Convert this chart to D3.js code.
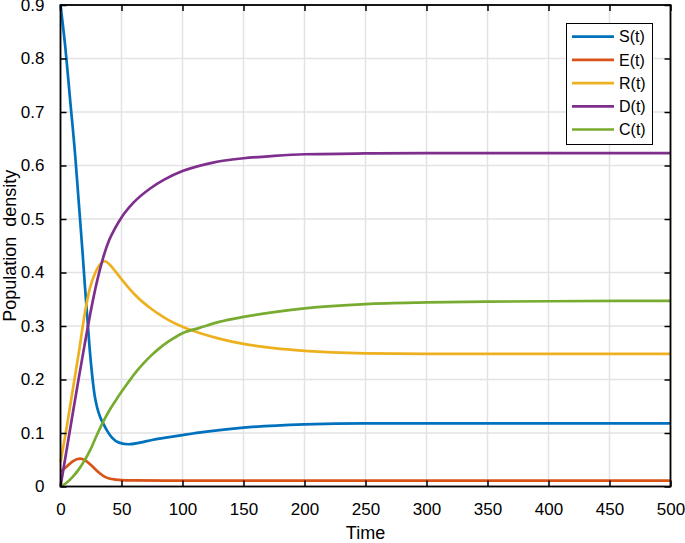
<!DOCTYPE html>
<html>
<head>
<meta charset="utf-8">
<script src="https://cdn.jsdelivr.net/npm/d3@7"></script>
<style>
  body { margin: 0; background: #fff; }
  text { font-family: "Liberation Sans", Arial, Helvetica, sans-serif; fill: #000; }
</style>
</head>
<body>
<svg id="chart" width="685" height="543"></svg>
<script>
// values, t -> density
var sTime = [0, 4, 8, 12, 15, 18, 20, 22, 24, 26, 28, 30, 32.5, 35.2, 38.5, 42, 48, 55.7, 65, 75, 100, 118, 150, 200, 250, 300, 500];
var sVals = [0.9, 0.82, 0.72, 0.62, 0.53, 0.44, 0.375, 0.315, 0.255, 0.207, 0.17, 0.148, 0.13, 0.117, 0.103, 0.092, 0.082, 0.079, 0.082, 0.087, 0.096, 0.102, 0.11, 0.116, 0.118, 0.118, 0.118];

var eTime = [0, 5, 10, 16, 20, 25, 30, 35, 40, 45, 50, 60, 100, 500];
var eVals = [0.028, 0.037, 0.047, 0.052, 0.049, 0.04, 0.029, 0.02, 0.015, 0.013, 0.012, 0.0115, 0.011, 0.011];

var rTime = [0, 5, 10, 15, 20, 24, 28.4, 32, 36.6, 41, 45, 50, 55, 61.2, 68, 74.9, 81, 88.6, 100, 116, 130, 150, 175, 200, 250, 300, 500];
var rVals = [0.045, 0.11, 0.18, 0.25, 0.325, 0.37, 0.399, 0.414, 0.421, 0.413, 0.402, 0.3875, 0.3735, 0.358, 0.3437, 0.3313, 0.3215, 0.3109, 0.2984, 0.2856, 0.2765, 0.2665, 0.2585, 0.2535, 0.249, 0.248, 0.248];

var dTime = [0, 5, 10, 15, 20, 25, 30, 35, 40, 45, 50, 60, 73.5, 85, 100, 125, 150, 175, 200, 250, 300, 500];
var dVals = [0, 0.068, 0.136, 0.203, 0.268, 0.33, 0.384, 0.428, 0.461, 0.484, 0.503, 0.531, 0.557, 0.5735, 0.5895, 0.6055, 0.6135, 0.618, 0.621, 0.6225, 0.623, 0.623];

var cTime = [0, 5, 10, 15, 19, 24.3, 29, 33.9, 40, 45, 50, 55, 61.2, 68, 74.9, 81, 88.6, 100, 114, 130, 150, 175, 200, 250, 300, 350, 400, 500];
var cVals = [0, 0.007, 0.018, 0.032, 0.046, 0.068, 0.092, 0.116, 0.142, 0.16, 0.177, 0.193, 0.212, 0.23, 0.246, 0.2582, 0.2711, 0.2865, 0.2965, 0.3077, 0.317, 0.326, 0.333, 0.341, 0.344, 0.3455, 0.3463, 0.347];

var seriesNames = ['S(t)', 'E(t)', 'R(t)', 'D(t)', 'C(t)'];
var seriesColors = ['#0072BD', '#D95319', '#EDB120', '#7E2F8E', '#77AC30'];
var xTicks = [0, 50, 100, 150, 200, 250, 300, 350, 400, 450, 500];
var yTicks = [0, 0.1, 0.2, 0.3, 0.4, 0.5, 0.6, 0.7, 0.8, 0.9];

(function () {
  var series = [
    {name: seriesNames[0], t: sTime, v: sVals},
    {name: seriesNames[1], t: eTime, v: eVals},
    {name: seriesNames[2], t: rTime, v: rVals},
    {name: seriesNames[3], t: dTime, v: dVals},
    {name: seriesNames[4], t: cTime, v: cVals}
  ];

  var svg = d3.select('#chart'),
      pl = 60.5, pr = 670.5, pt = 5, pb = 486.5;

  var x = d3.scaleLinear().domain([0, 500]).range([pl, pr]);
  var y = d3.scaleLinear().domain([0, 0.9]).range([pb, pt]);

  // grid
  var grid = svg.append('g').attr('stroke', '#e3e3e3').attr('stroke-width', 1.5);
  grid.selectAll('line.gx').data(xTicks).enter().append('line')
    .attr('x1', function (d) { return x(d); }).attr('x2', function (d) { return x(d); })
    .attr('y1', pt).attr('y2', pb);
  grid.selectAll('line.gy').data(yTicks).enter().append('line')
    .attr('y1', function (d) { return y(d); }).attr('y2', function (d) { return y(d); })
    .attr('x1', pl).attr('x2', pr);

  // curves
  var line = d3.line()
    .x(function (d) { return x(d[0]); })
    .y(function (d) { return y(d[1]); })
    .curve(d3.curveMonotoneX);

  svg.append('g').selectAll('path').data(series).enter().append('path')
    .attr('fill', 'none')
    .attr('stroke', function (d, i) { return seriesColors[i]; })
    .attr('stroke-width', 2.7)
    .attr('stroke-linejoin', 'round')
    .attr('d', function (d) { return line(d3.zip(d.t, d.v)); });

  // axes (ticks inward, box all round)
  var tk = 6;
  var xb = svg.append('g').attr('transform', 'translate(0,' + pb + ')')
    .call(d3.axisBottom(x).tickValues(xTicks).tickSize(-tk).tickPadding(16).tickFormat(d3.format('d')));
  var xt = svg.append('g').attr('transform', 'translate(0,' + pt + ')')
    .call(d3.axisTop(x).tickValues(xTicks).tickSize(-tk).tickFormat(''));
  var yl = svg.append('g').attr('transform', 'translate(' + pl + ',0)')
    .call(d3.axisLeft(y).tickValues(yTicks).tickSize(-tk).tickPadding(16).tickFormat(function (d) { return d === 0 ? '0' : d3.format('.1f')(d); }));
  var yr = svg.append('g').attr('transform', 'translate(' + pr + ',0)')
    .call(d3.axisRight(y).tickValues(yTicks).tickSize(-tk).tickFormat(''));

  [xb, xt, yl, yr].forEach(function (g) {
    g.select('.domain').remove();
    g.selectAll('.tick line').attr('stroke', '#000').attr('stroke-width', 1.5);
    g.selectAll('text').attr('font-size', 17).attr('fill', '#000')
      .style('font-family', '"Liberation Sans", Arial, sans-serif');
  });

  svg.append('rect')
    .attr('x', pl).attr('y', pt)
    .attr('width', pr - pl).attr('height', pb - pt)
    .attr('fill', 'none').attr('stroke', '#000').attr('stroke-width', 1.8);

  // axis titles
  svg.append('text').attr('x', (pl + pr) / 2).attr('y', 539)
    .attr('text-anchor', 'middle').attr('font-size', 18).text('Time');
  svg.append('text')
    .attr('transform', 'translate(16,' + ((pt + pb) / 2) + ') rotate(-90)')
    .attr('text-anchor', 'middle').attr('font-size', 18)
    .style('white-space', 'pre')
    .text('Population  density');

  // legend
  var lg = svg.append('g');
  lg.append('rect').attr('x', 566.5).attr('y', 23.5).attr('width', 86).attr('height', 121)
    .attr('fill', '#fff').attr('stroke', '#000').attr('stroke-width', 1);
  var items = lg.selectAll('g.item').data(seriesNames).enter().append('g')
    .attr('transform', function (d, i) { return 'translate(0,' + (36.7 + i * 23.2) + ')'; });
  items.append('line').attr('x1', 572).attr('x2', 614).attr('y1', 0).attr('y2', 0)
    .attr('stroke', function (d, i) { return seriesColors[i]; }).attr('stroke-width', 2.7);
  items.append('text').attr('x', 619).attr('y', 0).attr('dy', '0.36em')
    .attr('font-size', 16).text(function (d) { return d; });
})();
</script>
</body>
</html>
